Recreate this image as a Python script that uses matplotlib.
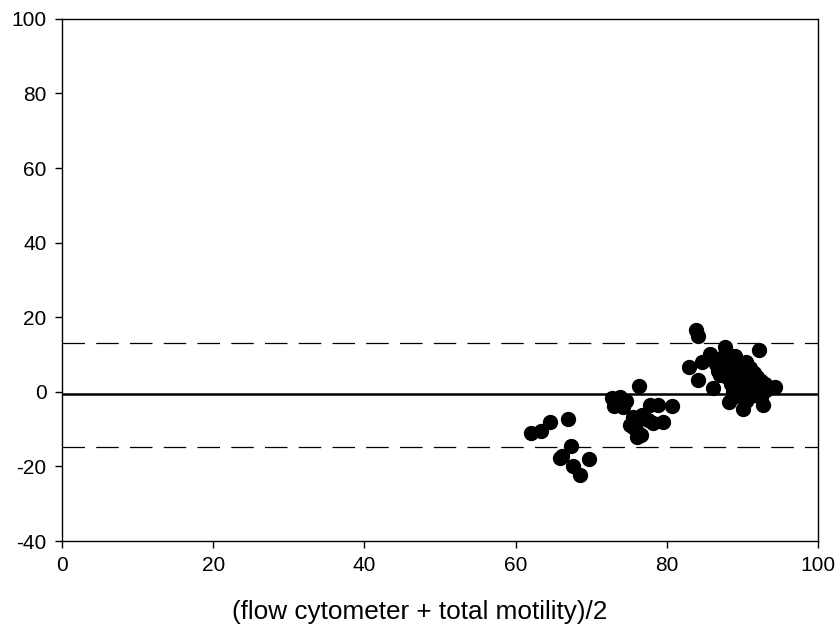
import numpy as np
import matplotlib.pyplot as plt

plt.rcParams['font.family'] = ['Liberation Sans', 'DejaVu Sans']
plt.rcParams['axes.unicode_minus'] = False

# averages (x) and differences (y) of the two methods
avg_low = [62.0, 63.4, 64.6, 66.9, 67.3, 65.9, 66.2, 67.6, 68.5, 69.7]
diff_low = [-11.0, -10.5, -8.1, -7.2, -14.6, -17.7, -17.2, -20.0, -22.2, -18.0]

avg_mid = [76.3, 72.8, 73.8, 74.6, 73.0, 74.2, 73.5, 77.8, 78.8, 80.7,
           75.5, 76.7, 77.5, 79.5, 75.1, 75.9, 76.1, 76.6, 78.2, 76.9,
           75.6, 76.3]
diff_mid = [1.6, -1.6, -1.4, -2.5, -3.8, -4.2, -3.0, -3.6, -3.6, -3.9,
            -6.7, -6.3, -7.5, -8.1, -8.8, -10.2, -12.0, -11.5, -8.4, -6.9,
            -9.5, -11.2]

avg_high = [83.9, 84.1, 87.7, 92.2, 82.9, 84.7, 85.7, 84.1, 86.1, 88.2,
            90.1, 92.7, 94.3, 86.5, 87.2, 88.0, 88.5, 89.0, 89.5, 90.0,
            90.5, 91.0, 91.5, 92.0, 92.5, 93.0, 88.0, 88.5, 89.0, 89.5,
            90.0, 90.5, 91.0, 91.5, 92.0, 89.0, 90.0, 91.0, 87.0, 87.5,
            88.8, 90.2, 91.2, 92.5, 93.2, 89.8, 90.8, 92.0, 89.2, 90.5,
            86.8, 88.2, 91.5]
diff_high = [16.6, 14.9, 12.0, 11.3, 6.7, 8.0, 10.2, 3.2, 1.0, -2.7,
             -4.6, -3.5, 1.3, 7.5, 9.0, 8.5, 6.0, 9.5, 7.0, 5.5,
             8.0, 6.5, 5.0, 4.0, 3.0, 2.0, 4.0, 2.0, 3.0, 1.0,
             2.5, 0.5, 1.5, 0.0, -0.5, 5.0, 4.0, 3.5, 4.5, 6.5,
             0.0, -1.5, -1.0, -1.5, 0.5, 6.5, 2.5, 2.0, -1.0, -2.5,
             5.5, 10.0, 3.0]

mean_diff = -0.6
upper_loa = 13.2
lower_loa = -14.8

x = np.array(avg_low + avg_mid + avg_high)
y = np.array(diff_low + diff_mid + diff_high)

fig = plt.figure(figsize=(8.38, 6.28), dpi=100)
ax = fig.add_axes([0.074, 0.1385, 0.902, 0.8315])

ax.plot([0, 100], [mean_diff, mean_diff], color='k', lw=1.8, zorder=2)
ax.plot([0, 100], [upper_loa, upper_loa], color='k', lw=0.9, dashes=(18, 9), zorder=2)
ax.plot([0, 100], [lower_loa, lower_loa], color='k', lw=0.9, dashes=(18, 9), zorder=2)
ax.plot(x, y, 'o', color='k', ms=10, zorder=3)

ax.set_xlim(0, 100)
ax.set_ylim(-40, 100)
ax.set_xticks(np.arange(0, 101, 20))
ax.set_yticks(np.arange(-40, 101, 20))
ax.tick_params(direction='out', length=5, width=1, labelsize=15, pad=6)
for s in ax.spines.values():
    s.set_linewidth(1)

# x label sits a little left of the axes centre
fig.text(0.5006, 0.014, '(flow cytometer + total motility)/2', fontsize=18.8,
         ha='center', va='baseline')

plt.savefig('out.png', dpi=100)
